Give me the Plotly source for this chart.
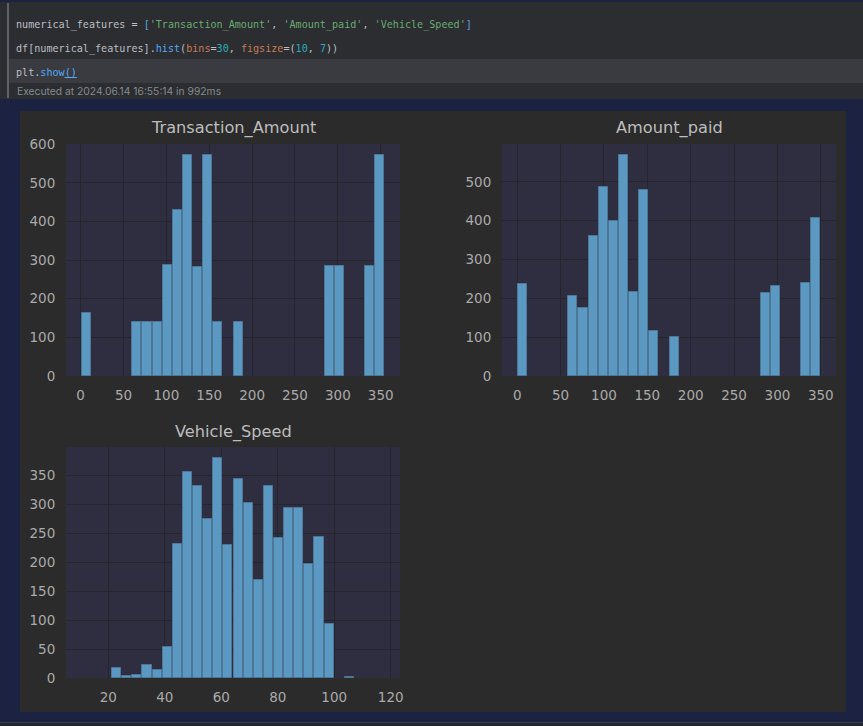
import plotly.graph_objects as go

W, H = 863, 726

# ---------------- data ----------------
n_bins = 30
ta_title = "Transaction_Amount"
ta_counts = [164, 0, 0, 0, 0, 141, 141, 141, 287, 429, 572, 282, 572, 141, 0,
             141, 0, 0, 0, 0, 0, 0, 0, 0, 284, 284, 0, 0, 284, 572]
ta_range = [0.6, 354.8]

ap_title = "Amount_paid"
ap_counts = [237, 0, 0, 0, 0, 206, 176, 360, 488, 398, 569, 216, 479, 115, 0,
             101, 0, 0, 0, 0, 0, 0, 0, 0, 214, 232, 0, 0, 239, 406]
ap_range = [0.0, 350.0]

vs_title = "Vehicle_Speed"
vs_counts = [0, 0, 0, 17, 4, 6, 22, 13, 53, 231, 356, 332, 274, 380, 229,
             343, 303, 169, 332, 241, 293, 294, 197, 244, 93, 0, 2, 0, 0, 0]
vs_range = [10.4, 117.9]

amount_xticks = [0, 50, 100, 150, 200, 250, 300, 350]
speed_xticks = [20, 40, 60, 80, 100, 120]
ta_yticks = [0, 100, 200, 300, 400, 500, 600]
ap_yticks = [0, 100, 200, 300, 400, 500]
vs_yticks = [0, 50, 100, 150, 200, 250, 300, 350]

code_lines = [
    [("numerical_features = ", "txt"), ("[", "br"), ("'Transaction_Amount'", "str"),
     (", ", "txt"), ("'Amount_paid'", "str"), (", ", "txt"), ("'Vehicle_Speed'", "str"),
     ("]", "br")],
    [("df[numerical_features].", "txt"), ("hist", "fn"), ("(", "txt"), ("bins", "kw"),
     ("=", "txt"), ("30", "num"), (", ", "txt"), ("figsize", "kw"), ("=(", "txt"),
     ("10", "num"), (", ", "txt"), ("7", "num"), ("))", "txt")],
    [("plt.", "txt"), ("show", "fn"), ("<u>()</u>", "fn")],
]
exec_text = "Executed at 2024.06.14 16:55:14 in 992ms"

# ---------------- style ----------------
NAVY = "#1c2241"
CELL = "#2b2d30"
HILITE = "#393b40"
OUT = "#2b2b2b"
PLOTBG = "#2e2e40"
GRID = "#25252e"
BAR = "#5b98c2"
BAR_EDGE = "#4c7797"
TICK = "#aaaaaa"
TITLE = "#bdbdbd"
code_colors = {"txt": "#bcbec4", "br": "#5f9ee0", "str": "#6aab73",
               "fn": "#56a8f5", "kw": "#c77b56", "num": "#2aacb8"}


def px(x):
    return x / W


def py(y):
    return 1 - y / H


panels = [
    dict(title=ta_title, counts=ta_counts, rng=ta_range, xt=amount_xticks, yt=ta_yticks,
         box=(66, 400, 144, 376), title_y=128),
    dict(title=ap_title, counts=ap_counts, rng=ap_range, xt=amount_xticks, yt=ap_yticks,
         box=(502, 836, 144, 376), title_y=128),
    dict(title=vs_title, counts=vs_counts, rng=vs_range, xt=speed_xticks, yt=vs_yticks,
         box=(66, 400, 447, 678), title_y=432),
]

fig = go.Figure()
annotations = []
layout_axes = {}

for k, p in enumerate(panels, start=1):
    lo, hi = p["rng"]
    w = (hi - lo) / n_bins
    centers = [lo + (i + 0.5) * w for i in range(n_bins)]
    heights = [c if c > 0 else None for c in p["counts"]]
    sfx = "" if k == 1 else str(k)
    fig.add_trace(go.Bar(
        x=centers, y=heights, width=[w * 0.9] * n_bins,
        marker=dict(color=BAR, line=dict(color=BAR_EDGE, width=1)),
        xaxis="x" + sfx, yaxis="y" + sfx, showlegend=False, hoverinfo="x+y",
    ))
    span = hi - lo
    x0, x1, y0, y1 = p["box"]
    ymax = max(p["counts"]) * 1.05
    common = dict(showgrid=True, gridcolor=GRID, gridwidth=1, zeroline=False, showline=False,
                  ticks="outside", ticklen=7, tickcolor="rgba(0,0,0,0)", automargin=False,
                  tickfont=dict(family="DejaVu Sans", size=13.5, color=TICK))
    layout_axes["xaxis" + sfx] = dict(
        domain=[px(x0), px(x1)], anchor="y" + sfx, range=[lo - 0.05 * span, hi + 0.05 * span],
        tickvals=p["xt"], ticktext=[str(t) for t in p["xt"]], **common)
    layout_axes["yaxis" + sfx] = dict(
        domain=[py(y1), py(y0)], anchor="x" + sfx, range=[0, ymax],
        tickvals=p["yt"], ticktext=[str(t) for t in p["yt"]], **common)
    annotations.append(dict(
        text=p["title"], x=px((x0 + x1) / 2), y=py(p["title_y"]), xref="paper", yref="paper",
        xanchor="center", yanchor="middle", showarrow=False,
        font=dict(family="DejaVu Sans", size=16.2, color=TITLE)))

# code cell text
line_y = [25, 49, 73]
for ly, parts in zip(line_y, code_lines):
    txt = "".join(f'<span style="color:{code_colors[c]}">{s}</span>' for s, c in parts)
    annotations.append(dict(
        text=txt, x=px(14), y=py(ly), xref="paper", yref="paper", xanchor="left",
        yanchor="middle", showarrow=False,
        font=dict(family="DejaVu Sans Mono", size=10.1, color=code_colors["txt"])))
annotations.append(dict(
    text=exec_text, x=px(15), y=py(90.5), xref="paper", yref="paper", xanchor="left",
    yanchor="middle", showarrow=False, font=dict(family="Inter", size=10.3, color="#868a91")))


def rect(x0, y0, x1, y1, color):
    return dict(type="rect", xref="paper", yref="paper", x0=px(x0), x1=px(x1),
                y0=py(y1), y1=py(y0), fillcolor=color, line=dict(width=0), layer="below")


shapes = [
    rect(0, 0, W, 2, NAVY),
    rect(0, 2, W, 99, CELL),
    rect(9, 59, W, 83, HILITE),
    rect(7, 3, 9, 98, "#5e6168"),
    rect(0, 99, W, 111, NAVY),
    rect(0, 111, 20, H, NAVY),
    rect(846, 111, W, H, NAVY),
    rect(20, 712, 846, H, NAVY),
    rect(0, 722, W, 723, "#3a3d48"),
    rect(0, 723, W, H, "#22252d"),
]

fig.update_layout(
    template="none",
    width=W, height=H, margin=dict(l=0, r=0, t=0, b=0, pad=0, autoexpand=False),
    paper_bgcolor=OUT, plot_bgcolor=PLOTBG, bargap=0,
    annotations=annotations, shapes=shapes, **layout_axes,
)

fig.write_html("out.html")
